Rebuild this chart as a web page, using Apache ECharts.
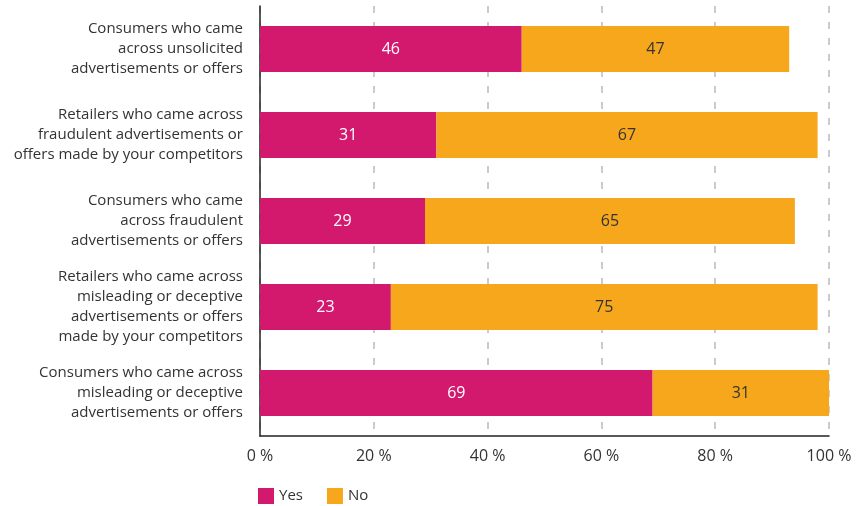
<!DOCTYPE html>
<html>
<head>
<meta charset="utf-8" />
<script src="https://cdn.jsdelivr.net/npm/echarts@6/dist/echarts.min.js"></script>
<style>
  html, body { margin: 0; padding: 0; background: #fff; }
  #chart { width: 858px; height: 506px; }
</style>
</head>
<body>
<div id="chart"></div>
<script>
// categories, top to bottom
const categories = [
  "Consumers who came\nacross unsolicited\nadvertisements or offers",
  "Retailers who came across\nfraudulent advertisements or\noffers made by your competitors",
  "Consumers who came\nacross fraudulent\nadvertisements or offers",
  "Retailers who came across\nmisleading or deceptive\nadvertisements or offers\nmade by your competitors",
  "Consumers who came across\nmisleading or deceptive\nadvertisements or offers"
];
const yesValues = [46, 31, 29, 23, 69];
const noValues = [47, 67, 65, 75, 31];
const xTicks = [0, 20, 40, 60, 80, 100];

const FONT = "'Open Sans', 'Noto Sans', sans-serif";

const myChart = echarts.init(document.getElementById("chart"));

const option = {
  animation: false,
  textStyle: { fontFamily: FONT },
  legend: {
    data: ["Yes", "No"],
    left: 253,
    top: 483,
    icon: "rect",
    itemWidth: 16,
    itemHeight: 16,
    itemGap: 24,
    textStyle: { fontSize: 15, color: "#333", fontFamily: FONT }
  },
  grid: {
    left: 260,
    right: 29,
    top: 6,
    bottom: 70
  },
  xAxis: {
    type: "value",
    min: xTicks[0],
    max: xTicks[xTicks.length - 1],
    interval: 20,
    axisLine: { show: true, lineStyle: { color: "#222", width: 1.5 } },
    axisTick: { show: false },
    axisLabel: {
      formatter: "{value} %",
      fontSize: 16,
      color: "#333",
      margin: 12,
      fontFamily: FONT
    },
    splitLine: {
      show: true,
      lineStyle: { color: "#bbb", width: 1.5, type: [7, 9] }
    }
  },
  yAxis: {
    type: "category",
    data: categories,
    inverse: true,
    axisLine: { show: true, lineStyle: { color: "#222", width: 1.5 } },
    axisTick: { show: false },
    axisLabel: {
      fontSize: 15,
      color: "#333",
      lineHeight: 20,
      align: "right",
      margin: 17,
      fontFamily: FONT
    }
  },
  series: [
    {
      name: "Yes",
      type: "bar",
      stack: "total",
      data: yesValues,
      barWidth: 46,
      itemStyle: { color: "#D2196E" },
      label: {
        show: true,
        position: "inside",
        color: "#fff",
        fontSize: 16,
        fontFamily: FONT
      }
    },
    {
      name: "No",
      type: "bar",
      stack: "total",
      data: noValues,
      barWidth: 46,
      itemStyle: { color: "#F7A71C" },
      label: {
        show: true,
        position: "inside",
        color: "#333",
        fontSize: 16,
        fontFamily: FONT
      }
    }
  ]
};

myChart.setOption(option);
</script>
</body>
</html>
